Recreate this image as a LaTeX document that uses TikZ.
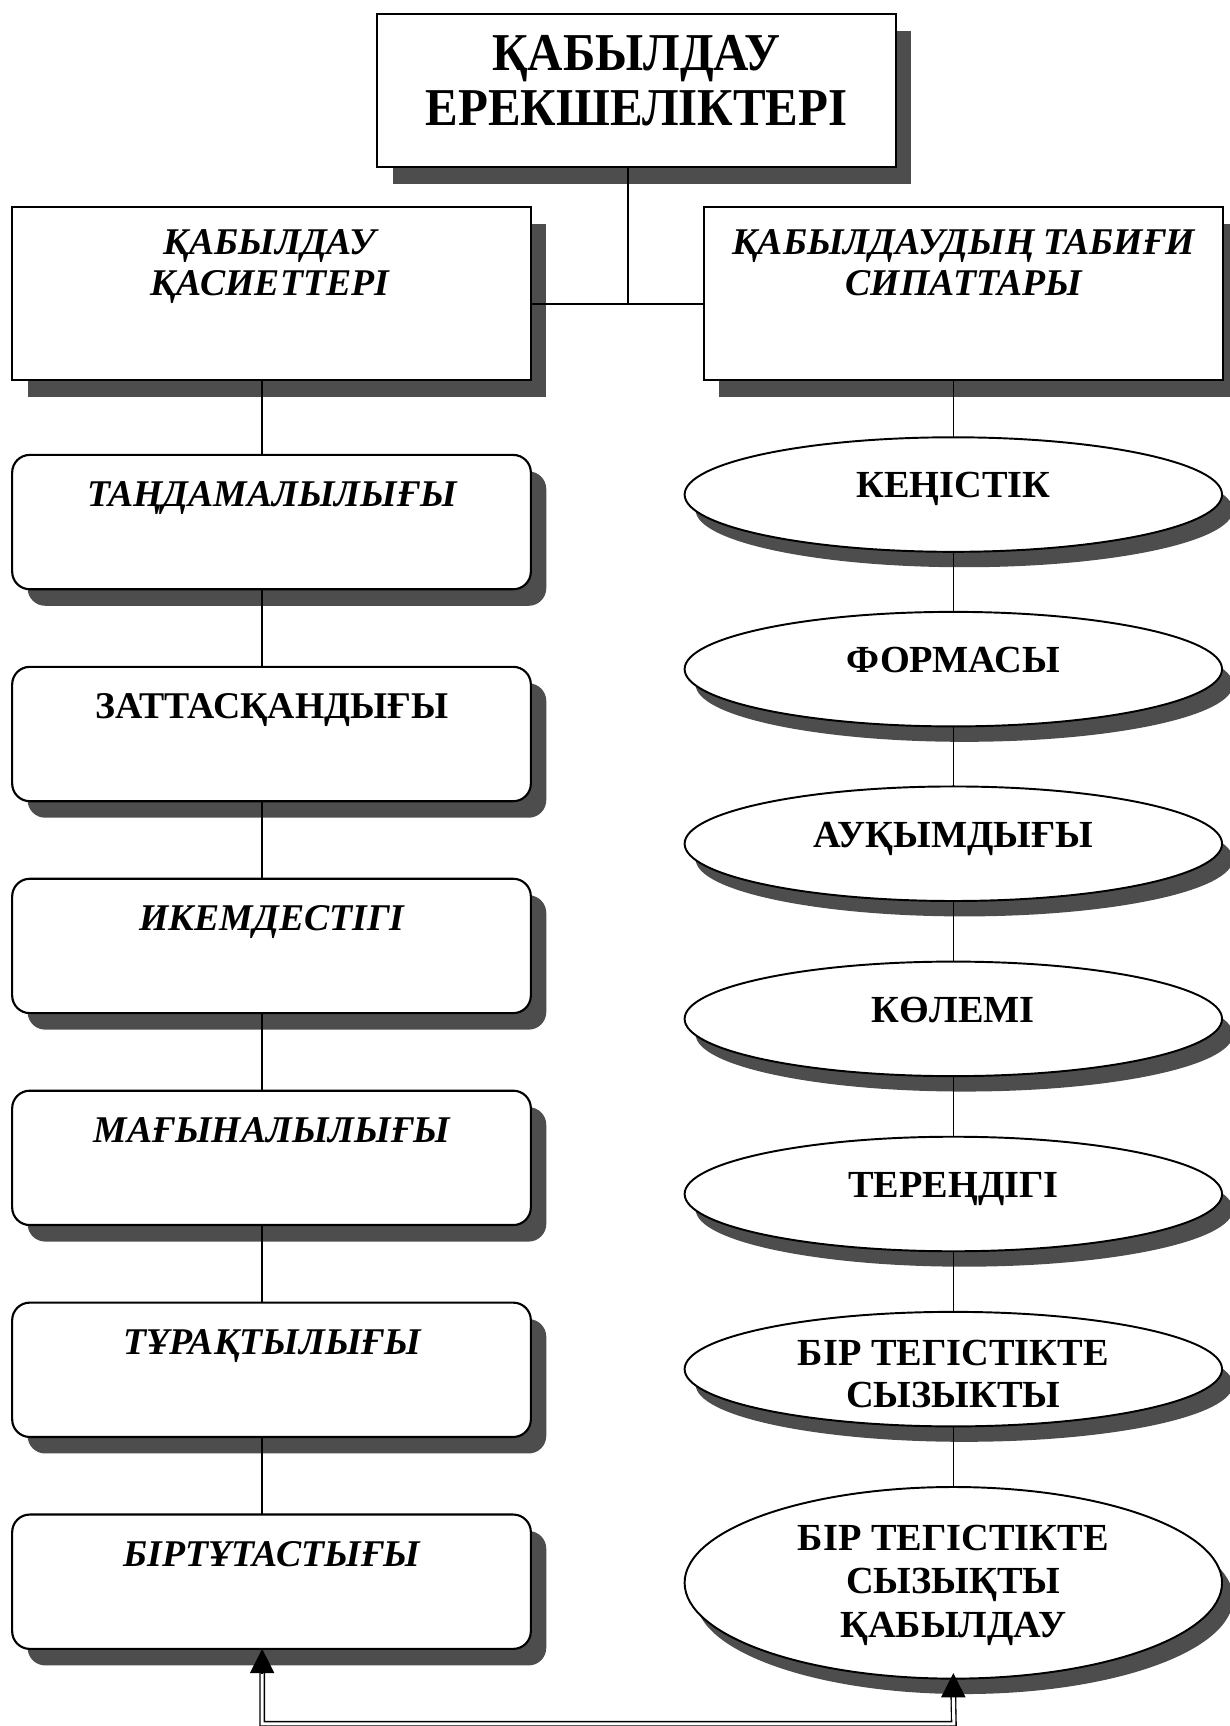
\documentclass[tikz,border=0pt]{standalone}
\usepackage{fontspec}
\setmainfont{Liberation Serif}
\newfontfamily\topfont[FakeStretch=0.92]{Liberation Serif}
\usetikzlibrary{shapes.geometric,shadows,arrows.meta,calc}
\definecolor{shadowgray}{RGB}{77,77,77}
\begin{document}
\begin{tikzpicture}[x=0.02cm,y=-0.02cm,
  sh/.style={drop shadow={shadow xshift=0.28cm,shadow yshift=-0.3cm,fill=shadowgray,opacity=1}},
  sqbox/.style={draw,line width=1.1pt,fill=white,rectangle,minimum width=9.42cm,inner sep=0pt,outer sep=0pt,sh},
  rbox/.style={sqbox,rounded corners=0.32cm,minimum height=2.44cm},
  ell/.style={draw,line width=1pt,fill=white,ellipse,minimum width=9.76cm,inner sep=0pt,outer sep=0pt,
     drop shadow={shadow xshift=0.2cm,shadow yshift=-0.28cm,fill=shadowgray,opacity=1}},
  conn/.style={line width=0.7pt},
  bigtxt/.style={font=\topfont\fontsize{27.5}{30}\selectfont\bfseries, anchor=base, inner sep=0pt},
  ttxt/.style={font=\fontsize{19.5}{22}\selectfont\bfseries\itshape, anchor=base, inner sep=0pt},
  utxt/.style={font=\fontsize{19.5}{22}\selectfont\bfseries, anchor=base, inner sep=0pt},
  etxt/.style={font=\fontsize{19.8}{22}\selectfont\bfseries, anchor=base, inner sep=0pt},
  dbl/.style={double, double distance=1.6pt, line width=0.7pt},
  tipar/.style={-{Triangle[length=0.44cm,width=0.44cm]}, line width=0.7pt}
]
\useasboundingbox[fill=white] (0,0) rectangle (1116,1567);

% top level boxes
\node[sqbox,minimum height=2.78cm] (top) at (578,82.5) {};
\node[sqbox,minimum height=3.14cm] (lt) at (246.5,266.5) {};
\node[sqbox,minimum height=3.14cm] (rt) at (874.5,266.5) {};

% left rounded boxes
\node[rbox] (b1) at (246.5,474) {};
\node[rbox] (b2) at (246.5,666.4) {};
\node[rbox] (b3) at (246.5,858.8) {};
\node[rbox] (b4) at (246.5,1051.2) {};
\node[rbox] (b5) at (246.5,1243.6) {};
\node[rbox] (b6) at (246.5,1436) {};

% right ellipses
\node[ell,minimum height=2.08cm] (e1) at (865.5,449) {};
\node[ell,minimum height=2.08cm] (e2) at (865.5,607.5) {};
\node[ell,minimum height=2.08cm] (e3) at (865.5,766) {};
\node[ell,minimum height=2.08cm] (e4) at (865.5,925) {};
\node[ell,minimum height=2.08cm] (e5) at (865.5,1084) {};
\node[ell,minimum height=2.08cm] (e6) at (865.5,1243) {};
\node[ell,minimum height=3.48cm] (e7) at (865.5,1437) {};

% texts
\node[bigtxt] (t0a) at (578,64) {ҚАБЫЛДАУ};
\node[bigtxt] (t0b) at (578,114) {ЕРЕКШЕЛІКТЕРІ};
\node[ttxt] (tla) at (245,231) {ҚАБЫЛДАУ};
\node[ttxt] (tlb) at (245,268) {ҚАСИЕТТЕРІ};
\node[ttxt] (tra) at (875,231) {ҚАБЫЛДАУДЫҢ ТАБИҒИ};
\node[ttxt] (trb) at (875,268) {СИПАТТАРЫ};

\node[ttxt] (x1) at (247,460) {ТАҢДАМАЛЫЛЫҒЫ};
\node[utxt] (x2) at (247,652.4) {ЗАТТАСҚАНДЫҒЫ};
\node[ttxt] (x3) at (247,844.8) {ИКЕМДЕСТІГІ};
\node[ttxt] (x4) at (247,1037.2) {МАҒЫНАЛЫЛЫҒЫ};
\node[ttxt] (x5) at (247,1229.6) {ТҰРАҚТЫЛЫҒЫ};
\node[ttxt] (x6) at (247,1422) {БІРТҰТАСТЫҒЫ};

\node[etxt] (y1) at (865.5,452) {КЕҢІСТІК};
\node[etxt] (y2) at (865.5,610.5) {ФОРМАСЫ};
\node[etxt] (y3) at (865.5,769) {АУҚЫМДЫҒЫ};
\node[etxt] (y4) at (865.5,928) {КӨЛЕМІ};
\node[etxt] (y5) at (865.5,1087) {ТЕРЕҢДІГІ};
\node[etxt] (y6a) at (865.5,1240) {БІР ТЕГІСТІКТЕ};
\node[etxt] (y6b) at (865.5,1278) {СЫЗЫКТЫ};
\node[etxt] (y7a) at (865.5,1408) {БІР ТЕГІСТІКТЕ};
\node[etxt] (y7b) at (865.5,1447) {СЫЗЫҚТЫ};
\node[etxt] (y7c) at (865.5,1487) {ҚАБЫЛДАУ};

% connectors
\coordinate (j) at (570,276);
\coordinate (lx) at (238,0);
\draw[conn] (top.south -| j) -- (j);
\draw[line width=1.3pt] (lt.east |- j) -- (rt.west |- j);
\draw[conn] (lt.south -| lx) -- (b1.north -| lx);
\draw[conn] (b1.south -| lx) -- (b2.north -| lx);
\draw[conn] (b2.south -| lx) -- (b3.north -| lx);
\draw[conn] (b3.south -| lx) -- (b4.north -| lx);
\draw[conn] (b4.south -| lx) -- (b5.north -| lx);
\draw[conn] (b5.south -| lx) -- (b6.north -| lx);
\draw[conn] (rt.south -| e1.north) -- (e1.north);
\draw[conn] (e1.south) -- (e2.north);
\draw[conn] (e2.south) -- (e3.north);
\draw[conn] (e3.south) -- (e4.north);
\draw[conn] (e4.south) -- (e5.north);
\draw[conn] (e5.south) -- (e6.north);
\draw[conn] (e6.south) -- (e7.north);

% bottom double connector with arrows
\coordinate (cl) at (238,1565);
\coordinate (cr) at (866,1565);
\coordinate (al) at ($(b6.south -| cl)+(0,22)$);
\coordinate (ar) at ($(e7.south)+(0,16)$);
\draw[dbl] (al) -- (cl) -- (cr) -- (ar);
\draw[tipar] (al) -- (b6.south -| cl);
\draw[tipar] (ar) -- ($(e7.south)+(0,-5)$);
\end{tikzpicture}
\end{document}
